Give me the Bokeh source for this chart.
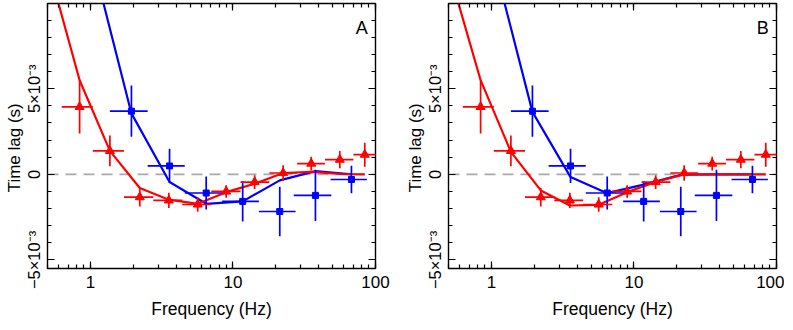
from bokeh.plotting import figure
from bokeh.models import (LinearAxis, LogAxis, LogTicker, SingleIntervalTicker,
                          CustomJSTickFormatter, Label, Span, ColumnDataSource, Range1d)
from bokeh.layouts import row
from bokeh.embed import file_html
from bokeh.resources import INLINE

# ---------------- data ----------------
# red (triangles) data
red_freq = [0.84, 1.37, 2.22, 3.55, 5.66, 8.96, 14.2, 22.5, 35.4, 56.2, 84.1]
red_flo = [0.63, 1.04, 1.72, 2.76, 4.40, 7.05, 11.3, 18.0, 28.2, 44.2, 70.0]
red_fhi = [1.04, 1.72, 2.76, 4.40, 7.05, 11.3, 18.0, 28.2, 44.2, 70.0, 108.0]
red_lag = [3.94e-3, 1.37e-3, -1.33e-3, -1.52e-3, -1.76e-3, -1.00e-3, -0.45e-3,
           0.08e-3, 0.63e-3, 0.86e-3, 1.15e-3]
red_err = [1.56e-3, 0.90e-3, 0.55e-3, 0.45e-3, 0.42e-3, 0.37e-3, 0.40e-3,
           0.45e-3, 0.40e-3, 0.50e-3, 0.70e-3]

# blue (squares) data
blue_freq = [1.94, 3.59, 6.49, 11.7, 21.3, 37.9, 67.8]
blue_flo = [1.37, 2.52, 4.59, 8.40, 15.2, 26.7, 48.4]
blue_fhi = [2.52, 4.59, 8.40, 15.2, 27.5, 49.0, 87.0]
blue_lag = [3.69e-3, 0.49e-3, -1.09e-3, -1.58e-3, -2.17e-3, -1.23e-3, -0.30e-3]
blue_err = [1.50e-3, 1.00e-3, 0.96e-3, 1.17e-3, 1.44e-3, 1.50e-3, 0.80e-3]

# model curves
red_model_freq = [0.52, 0.84, 1.37, 2.22, 3.55, 5.66, 8.96, 14.2, 22.5, 35.4, 56.2, 84.1]
blue_model_freq = [1.05, 1.94, 3.59, 6.49, 11.7, 21.3, 37.9, 67.8]

red_model_A = [11.8e-3, 5.5e-3, 1.37e-3, -0.80e-3, -1.48e-3, -1.72e-3, -1.04e-3,
               -0.55e-3, 0.08e-3, 0.14e-3, 0.02e-3, 0.0]
blue_model_A = [12.3e-3, 3.56e-3, -0.45e-3, -1.72e-3, -1.58e-3, -0.35e-3, 0.19e-3, 0.0]

red_model_B = [11.5e-3, 5.5e-3, 1.31e-3, -0.94e-3, -1.82e-3, -1.78e-3, -1.04e-3,
               -0.45e-3, 0.0, 0.0, 0.0, 0.0]
blue_model_B = [12.3e-3, 3.65e-3, -0.16e-3, -1.10e-3, -0.60e-3, -0.02e-3, 0.0, 0.0]

panel_labels = ["A", "B"]
x_title = "Frequency (Hz)"
y_title = "Time lag (s)"

RED = "#ff0000"
BLUE = "#0000ff"
FONT = "Liberation Sans"

X_RANGE = (0.5, 100)
Y_RANGE = (-5.5e-3, 9.98e-3)


def style_axis(ax, show_labels, size="17px"):
    ax.major_tick_in = 7
    ax.major_tick_out = 0
    ax.minor_tick_in = 4
    ax.minor_tick_out = 0
    ax.major_tick_line_color = "black"
    ax.minor_tick_line_color = "black"
    ax.major_tick_line_width = 1.2
    ax.minor_tick_line_width = 1.2
    ax.axis_line_color = None
    ax.major_label_text_font = FONT
    ax.axis_label_text_color = "black"
    if show_labels:
        ax.major_label_text_font_size = size
        ax.major_label_text_color = "black"
    else:
        ax.major_label_text_font_size = "0px"
        ax.major_label_text_alpha = 0
        ax.major_label_standoff = 0


def make_panel(red_model, blue_model, label, min_right):
    p = figure(x_axis_type="log", x_range=Range1d(*X_RANGE), y_range=Range1d(*Y_RANGE),
               frame_width=328, frame_height=265,
               min_border_left=47, min_border_right=min_right,
               min_border_top=3, min_border_bottom=60,
               output_backend="svg", toolbar_location=None,
               background_fill_color="white", border_fill_color="white")
    p.grid.visible = False
    p.outline_line_color = "black"
    p.outline_line_width = 1.4

    xticker = LogTicker(num_minor_ticks=10)
    yticker = SingleIntervalTicker(interval=5e-3, num_minor_ticks=5)
    xfmt = CustomJSTickFormatter(code="return String(Number(tick.toPrecision(6)));")
    yfmt = CustomJSTickFormatter(code="""
        const m = Math.round(tick * 1000);
        if (m === 0) { return "0"; }
        return (m < 0 ? "\u2212" : "") + Math.abs(m) + "\u00d710\u207b\u00b3";
    """)

    xa = p.xaxis[0]
    xa.ticker = xticker
    xa.formatter = xfmt
    style_axis(xa, True, "17px")
    xa.major_label_standoff = 7
    xa.axis_label = x_title
    xa.axis_label_text_font = FONT
    xa.axis_label_text_font_size = "17.5px"
    xa.axis_label_text_font_style = "normal"
    xa.axis_label_standoff = 8

    ya = p.yaxis[0]
    ya.ticker = yticker
    ya.formatter = yfmt
    style_axis(ya, True, "16.5px")
    ya.major_label_orientation = "vertical"
    ya.major_label_standoff = 4
    # trailing no-break spaces move the visible title slightly below the frame centre
    ya.axis_label = y_title + "\u00a0" * 5
    ya.axis_label_text_font = FONT
    ya.axis_label_text_font_size = "17px"
    ya.axis_label_text_font_style = "normal"
    ya.axis_label_standoff = -1

    top = LogAxis(ticker=xticker)
    style_axis(top, False)
    p.add_layout(top, "above")
    right = LinearAxis(ticker=yticker)
    style_axis(right, False)
    p.add_layout(right, "right")

    zero = Span(location=0, dimension="width", line_color="#aaaaaa",
                line_dash="11 7", line_width=1.6, level="underlay")
    p.add_layout(zero)

    # models
    p.line(blue_model_freq, blue_model, line_color=BLUE, line_width=2.2)
    p.line(red_model_freq, red_model, line_color=RED, line_width=2.2)

    # blue data
    bsrc = ColumnDataSource(dict(
        f=blue_freq, flo=blue_flo, fhi=blue_fhi, y=blue_lag,
        ylo=[v - e for v, e in zip(blue_lag, blue_err)],
        yhi=[v + e for v, e in zip(blue_lag, blue_err)]))
    p.segment(x0="flo", y0="y", x1="fhi", y1="y", source=bsrc, line_color=BLUE, line_width=1.7)
    p.segment(x0="f", y0="ylo", x1="f", y1="yhi", source=bsrc, line_color=BLUE, line_width=1.7)
    p.scatter(x="f", y="y", source=bsrc, marker="square", size=6,
              fill_color=BLUE, line_color=BLUE)

    # red data
    rsrc = ColumnDataSource(dict(
        f=red_freq, flo=red_flo, fhi=red_fhi, y=red_lag,
        ylo=[v - e for v, e in zip(red_lag, red_err)],
        yhi=[v + e for v, e in zip(red_lag, red_err)]))
    p.segment(x0="flo", y0="y", x1="fhi", y1="y", source=rsrc, line_color=RED, line_width=1.7)
    p.segment(x0="f", y0="ylo", x1="f", y1="yhi", source=rsrc, line_color=RED, line_width=1.7)
    p.scatter(x="f", y="y", source=rsrc, marker="triangle", size=9,
              fill_color=RED, line_color=RED)

    # panel letter
    p.add_layout(Label(x=88.3, y=8.54e-3, text=label, text_align="right",
                       text_baseline="alphabetic", text_font=FONT,
                       text_font_size="18px", text_color="black"))
    return p


pA = make_panel(red_model_A, blue_model_A, panel_labels[0], 26)
pB = make_panel(red_model_B, blue_model_B, panel_labels[1], 8)

layout = row(pA, pB)
open("out.html", "w").write(file_html(layout, INLINE))
